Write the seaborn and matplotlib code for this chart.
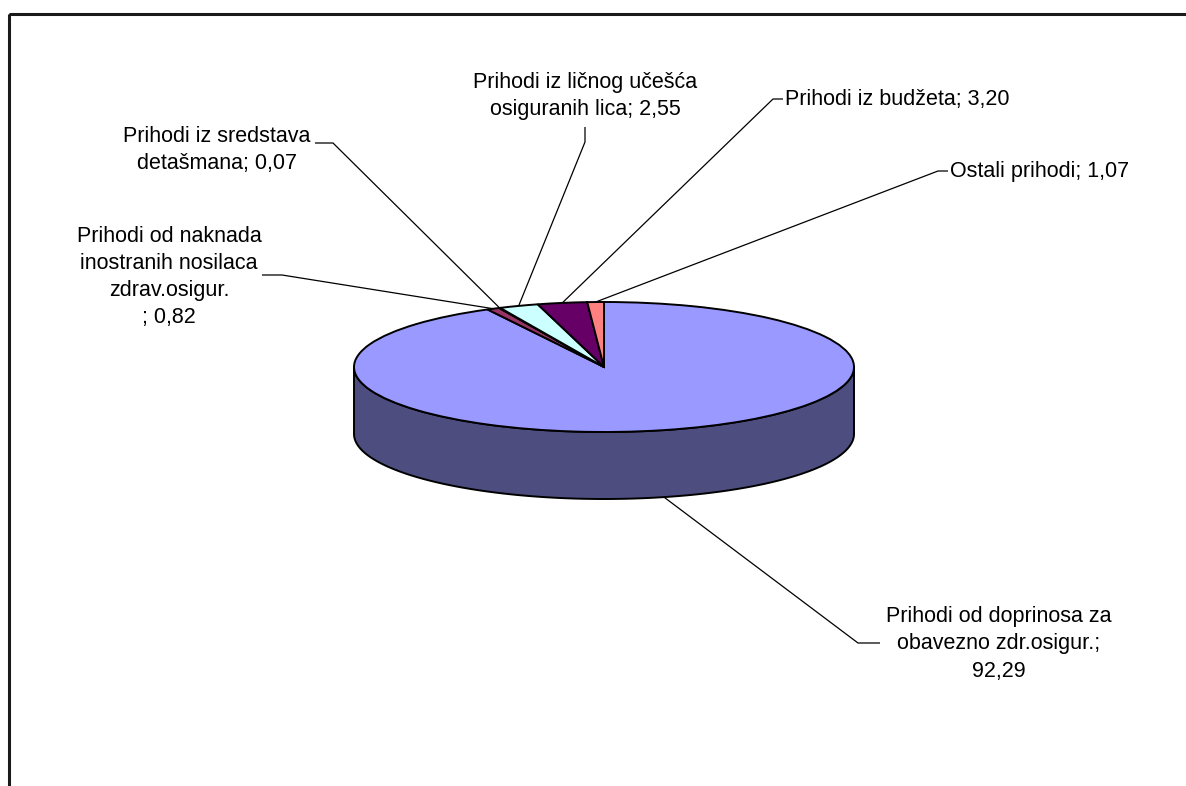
import numpy as np
import matplotlib
matplotlib.use("Agg")
import matplotlib.pyplot as plt
from matplotlib.transforms import Affine2D
from matplotlib.patches import Rectangle
import seaborn as sns

# ---- data ----
categories = [
    "Prihodi od doprinosa za\nobavezno zdr.osigur.;\n92,29",
    "Prihodi od naknada\ninostranih nosilaca\nzdrav.osigur.\n; 0,82",
    "Prihodi iz sredstava\ndetašmana; 0,07",
    "Prihodi iz ličnog učešća\nosiguranih lica; 2,55",
    "Prihodi iz budžeta; 3,20",
    "Ostali prihodi; 1,07",
]
values = [92.29, 0.82, 0.07, 2.55, 3.20, 1.07]
colors = ["#9999FF", "#993366", "#FFFFCC", "#CCFFFF", "#660066", "#FF8080"]

sns.set_theme(style="white")
plt.rcParams["font.family"] = ["Liberation Sans", "DejaVu Sans"]

W, H = 1186, 786
fig = plt.figure(figsize=(W / 100, H / 100), dpi=100)
ax = fig.add_axes([0, 0, 1, 1])

CX, CY, RX, RY, DEPTH = 604, 367, 250, 65, 67

wedges, _ = ax.pie(values, colors=colors, startangle=90, counterclock=False,
                   radius=1, center=(0, 0), frame=True,
                   wedgeprops=dict(edgecolor="black", linewidth=1.4))
ax.set_aspect("auto")
ax.set_xlim(0, W)
ax.set_ylim(H, 0)
ax.axis("off")

tr = Affine2D().scale(RX, -RY).translate(CX, CY) + ax.transData


def shade(c, f=0.5):
    r, g, b = matplotlib.colors.to_rgb(c)
    return (r * f, g * f, b * f)


def ell(theta_deg, dy=0.0):
    t = np.radians(theta_deg)
    return CX + RX * np.cos(t), CY - RY * np.sin(t) + dy


# sides (front half only)
for w, c in zip(wedges, colors):
    t1, t2 = w.theta1, w.theta2
    for k in (-1, 0, 1):
        a = max(t1, 180 + 360 * k)
        b = min(t2, 360 + 360 * k)
        if b > a:
            th = np.linspace(a, b, 200)
            xt, yt = ell(th)
            xb, yb = ell(th[::-1], DEPTH)
            ax.fill(np.r_[xt, xb], np.r_[yt, yb], facecolor=shade(c, 0.5),
                    edgecolor="black", linewidth=1.4, zorder=1)

for w in wedges:
    w.set_transform(tr)
    w.set_zorder(2)

# label anchors (mid-angle of each slice)
anchors = []
for w in wedges:
    mid = (w.theta1 + w.theta2) / 2
    x, y = ell(mid)
    if np.sin(np.radians(mid)) < 0:
        y += DEPTH
    anchors.append((x, y))

# label layout: text position, alignment, elbow point list
layout = [
    dict(xy=(999, 644), ha="center", elbow=[(880, 643), (858, 643)]),
    dict(xy=(169, 277), ha="center", elbow=[(262, 275), (282, 275)]),
    dict(xy=(217, 150), ha="center", elbow=[(315, 143), (333, 143)]),
    dict(xy=(585, 96), ha="center", elbow=[(585, 127), (585, 142)]),
    dict(xy=(785, 99), ha="left", elbow=[(783, 99), (773, 99)]),
    dict(xy=(950, 171), ha="left", elbow=[(948, 171), (938, 171)]),
]

for lab, lay, anc in zip(categories, layout, anchors):
    ax.text(lay["xy"][0], lay["xy"][1], lab, ha=lay["ha"], va="center",
            multialignment="center", fontsize=15.5, color="black",
            linespacing=1.38, zorder=5)
    pts = lay["elbow"] + [anc]
    ax.plot([p[0] for p in pts], [p[1] for p in pts], color="black",
            linewidth=0.9, zorder=3, solid_capstyle="butt")

# chart frame
ax.add_patch(Rectangle((9, 14), W + 20, H + 20, fill=False,
                       edgecolor="#1a1a1a", linewidth=2.2, zorder=10))

fig.savefig("out.png", dpi=100)
